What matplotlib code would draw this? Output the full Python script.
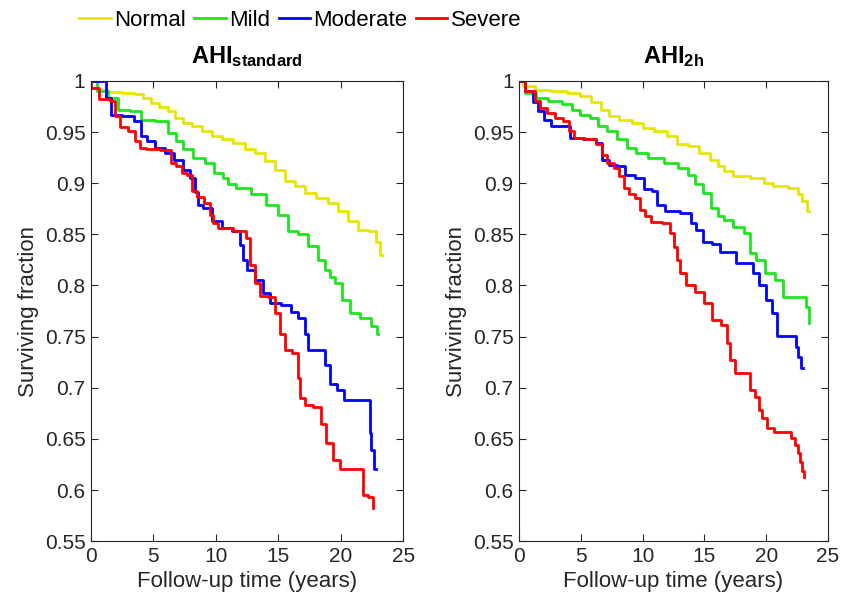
import matplotlib
matplotlib.use('Agg')
import matplotlib.pyplot as plt
from matplotlib.ticker import FuncFormatter

plt.rcParams['font.family'] = ['Liberation Sans', 'DejaVu Sans']
plt.rcParams['mathtext.fontset'] = 'custom'
plt.rcParams['mathtext.rm'] = 'Liberation Sans'
plt.rcParams['mathtext.bf'] = 'Liberation Sans:bold'

groups = ['Normal', 'Mild', 'Moderate', 'Severe']
colors = ['#e6e600', '#1ee61e', '#0000ff', '#ff0000']

# AHI standard
std_normal_t = [0, 1.0, 1.8, 3.1, 3.9, 4.5, 5.1, 5.8, 6.5, 7.0, 7.7, 8.5, 9.3, 10.1, 10.9, 11.9, 12.7, 13.5,
                14.3, 15.1, 15.9, 16.7, 17.5, 18.6, 19.4, 20.2, 21.0, 21.8, 22.6, 23.0, 23.3]
std_normal_s = [1, 0.991, 0.989, 0.988, 0.987, 0.983, 0.978, 0.975, 0.971, 0.964, 0.959, 0.956, 0.951, 0.946,
                0.943, 0.939, 0.933, 0.93, 0.922, 0.913, 0.902, 0.897, 0.89, 0.886, 0.881, 0.873, 0.863, 0.854,
                0.853, 0.843, 0.83]

std_mild_t = [0, 1.0, 1.8, 2.6, 3.7, 4.3, 5.9, 6.5, 7.1, 7.7, 8.7, 9.5, 10.2, 10.9, 11.1, 12.2, 13.5, 14.6, 15.4,
              16.1, 17.0, 17.8, 18.6, 18.9, 19.4, 19.7, 20.5, 20.9, 22.1, 22.8, 23.0]
std_mild_s = [1, 0.99, 0.983, 0.972, 0.971, 0.962, 0.961, 0.949, 0.941, 0.933, 0.925, 0.92, 0.91, 0.905, 0.899,
              0.895, 0.889, 0.879, 0.869, 0.853, 0.85, 0.839, 0.825, 0.815, 0.808, 0.802, 0.786, 0.773, 0.768,
              0.76, 0.753]

std_mod_t = [0, 1.0, 1.4, 1.8, 3.1, 3.8, 4.2, 4.7, 5.5, 6.3, 7.0, 7.7, 8.2, 8.5, 8.7, 9.3, 10.1, 10.9, 11.7, 12.1,
             12.3, 12.7, 13.5, 14.1, 14.6, 15.8, 16.2, 16.9, 17.3, 17.5, 18.6, 18.9, 19.4, 20.0, 20.5, 22.2, 22.4,
             22.5, 22.8]
std_mod_s = [1, 1, 0.983, 0.967, 0.966, 0.961, 0.946, 0.941, 0.934, 0.93, 0.923, 0.913, 0.905, 0.891, 0.879,
             0.876, 0.863, 0.856, 0.853, 0.84, 0.825, 0.815, 0.805, 0.793, 0.783, 0.781, 0.774, 0.768, 0.753,
             0.737, 0.737, 0.722, 0.704, 0.698, 0.688, 0.688, 0.656, 0.639, 0.621]

std_sev_t = [0, 0.05, 1.3, 1.8, 2.1, 2.6, 3.3, 3.8, 4.1, 4.7, 6.3, 6.5, 7.1, 7.4, 7.9, 8.2, 8.7, 9.4, 9.7, 9.9,
             10.5, 12.2, 12.6, 12.9, 13.3, 13.8, 14.5, 14.9, 15.3, 15.7, 16.5, 16.6, 16.9, 17.3, 18.2, 18.6, 19.1,
             19.7, 20.1, 21.6, 21.9, 22.5, 22.6]
std_sev_s = [1, 0.993, 0.982, 0.98, 0.966, 0.955, 0.951, 0.941, 0.934, 0.933, 0.932, 0.92, 0.917, 0.91, 0.908,
             0.892, 0.887, 0.881, 0.869, 0.861, 0.856, 0.853, 0.846, 0.82, 0.802, 0.79, 0.789, 0.773, 0.753, 0.737,
             0.734, 0.71, 0.69, 0.683, 0.681, 0.665, 0.646, 0.629, 0.621, 0.621, 0.595, 0.593, 0.582]

# AHI 2h
h2_normal_t = [0, 0.7, 1.8, 3.2, 4.5, 5.3, 6.3, 7.0, 7.6, 8.6, 9.6, 10.4, 11.5, 12.4, 13.2, 14.2, 15.0, 15.9,
               16.3, 16.9, 17.7, 19.6, 20.1, 21.0, 22.5, 22.7, 23.1, 23.5]
h2_normal_s = [1, 0.995, 0.991, 0.99, 0.988, 0.985, 0.979, 0.972, 0.966, 0.962, 0.959, 0.954, 0.951, 0.946,
               0.938, 0.936, 0.93, 0.923, 0.917, 0.912, 0.907, 0.905, 0.9, 0.897, 0.895, 0.889, 0.883, 0.873]

h2_mild_t = [0, 1.0, 1.8, 2.9, 4.0, 4.5, 5.3, 6.1, 6.7, 7.5, 8.3, 9.1, 9.9, 11.0, 12.4, 13.4, 14.0, 14.5, 15.2,
             15.9, 16.3, 16.8, 17.9, 18.5, 18.9, 19.5, 20.3, 21.1, 21.7, 23.1, 23.4, 23.5]
h2_mild_s = [1, 0.988, 0.983, 0.98, 0.977, 0.972, 0.967, 0.964, 0.956, 0.951, 0.943, 0.934, 0.93, 0.925, 0.92,
             0.915, 0.908, 0.899, 0.89, 0.876, 0.868, 0.864, 0.857, 0.851, 0.832, 0.825, 0.812, 0.805, 0.789,
             0.789, 0.779, 0.763]

h2_mod_t = [0, 0.9, 1.3, 1.8, 2.3, 2.8, 3.9, 4.4, 6.0, 6.4, 7.0, 7.5, 8.3, 8.8, 9.9, 10.4, 11.1, 11.3, 12.4, 13.7,
            14.1, 14.6, 15.2, 16.1, 16.4, 17.5, 17.6, 18.7, 19.1, 19.7, 20.3, 20.7, 21.0, 22.3, 22.5, 22.7, 23.0]
h2_mod_s = [1, 0.99, 0.979, 0.971, 0.962, 0.956, 0.956, 0.944, 0.943, 0.939, 0.923, 0.918, 0.917, 0.908, 0.905,
            0.894, 0.892, 0.879, 0.873, 0.871, 0.861, 0.854, 0.843, 0.841, 0.833, 0.833, 0.822, 0.822, 0.812, 0.8,
            0.786, 0.773, 0.751, 0.751, 0.74, 0.73, 0.719]

h2_sev_t = [0, 1.0, 1.5, 1.9, 2.6, 3.2, 3.9, 4.1, 4.8, 5.9, 6.6, 6.8, 7.4, 7.9, 8.3, 8.7, 9.1, 9.6, 10.0, 10.4,
            11.0, 12.1, 12.4, 12.6, 12.9, 13.2, 13.8, 14.6, 15.3, 16.0, 16.7, 16.9, 17.3, 17.7, 18.4, 18.9, 19.3,
            19.5, 19.9, 20.3, 20.9, 21.8, 22.2, 22.5, 22.7, 22.8, 23.0, 23.05]
h2_sev_s = [1, 0.99, 0.98, 0.974, 0.969, 0.964, 0.961, 0.951, 0.944, 0.943, 0.938, 0.928, 0.92, 0.915, 0.907,
            0.895, 0.889, 0.886, 0.874, 0.868, 0.862, 0.861, 0.851, 0.838, 0.825, 0.812, 0.8, 0.794, 0.783, 0.766,
            0.761, 0.744, 0.727, 0.714, 0.714, 0.698, 0.691, 0.678, 0.67, 0.661, 0.657, 0.657, 0.651, 0.644,
            0.636, 0.627, 0.619, 0.613]

panels = [
    (r'$\mathbf{AHI_{standard}}$',
     [(std_normal_t, std_normal_s), (std_mild_t, std_mild_s), (std_mod_t, std_mod_s), (std_sev_t, std_sev_s)]),
    (r'$\mathbf{AHI_{2h}}$',
     [(h2_normal_t, h2_normal_s), (h2_mild_t, h2_mild_s), (h2_mod_t, h2_mod_s), (h2_sev_t, h2_sev_s)]),
]

fig = plt.figure(figsize=(8.58, 6.04), dpi=100)
axes = [fig.add_axes([0.106, 0.104, 0.364, 0.762]),
        fig.add_axes([0.605, 0.104, 0.360, 0.762])]

dark = '#262626'
for ax, (title, curves) in zip(axes, panels):
    for (t, s), name, c in zip(curves, groups, colors):
        ax.step(t, s, where='mid', color=c, lw=2, label=name)
    ax.set_xlim(0, 25)
    ax.set_ylim(0.55, 1)
    ax.set_xticks([0, 5, 10, 15, 20, 25])
    ax.set_yticks([0.55, 0.6, 0.65, 0.7, 0.75, 0.8, 0.85, 0.9, 0.95, 1])
    ax.yaxis.set_major_formatter(FuncFormatter(lambda v, p: '%g' % round(v, 2)))
    ax.tick_params(direction='in', top=True, right=True, length=5, width=0.8,
                   labelsize=15, colors=dark, pad=4)
    for sp in ax.spines.values():
        sp.set_color(dark)
        sp.set_linewidth(0.8)
    ax.set_xlabel('Follow-up time (years)', fontsize=16, color=dark)
    ax.set_ylabel('Surviving fraction', fontsize=16, color=dark)
    ax.set_title(title, fontsize=17, color='black', pad=13)

handles, labels = axes[0].get_legend_handles_labels()
fig.legend(handles, labels, loc='upper center', bbox_to_anchor=(0.35, 1.017), ncol=4, frameon=False,
           fontsize=16, handlelength=1.4, handletextpad=0.15, columnspacing=0.4)

fig.savefig('out.png', dpi=100)
plt.close(fig)
